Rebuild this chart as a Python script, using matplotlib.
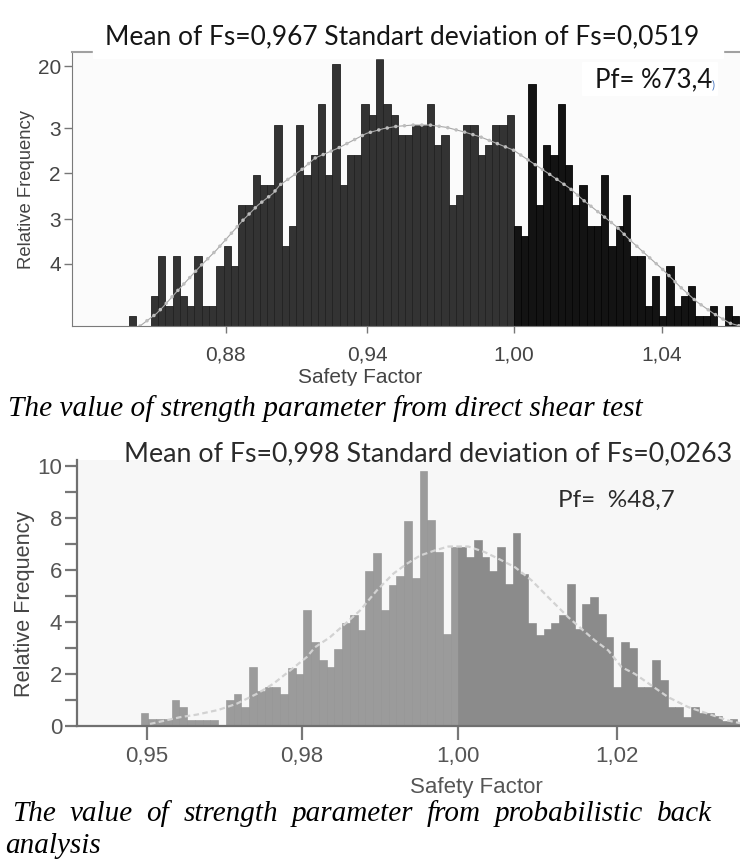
import matplotlib
matplotlib.use('Agg')
import matplotlib.pyplot as plt
import numpy as np
from matplotlib.patches import Rectangle

# figure size in pixels, all placement below is done in these pixels
W, H = 740, 868

def fx(px):
    return px / W

def fy(py):
    return 1 - py / H

# ---------------- data: direct shear test ----------------
top_title = 'Mean of Fs=0,967 Standart deviation of Fs=0,0519'
top_pf = 'Pf= %73,4'
top_bin_start = 0.841
top_bin_width = 0.003
# bars below Fs = 1.00
top_left = [0.77, 0, 0, 2.31, 5.38, 1.54, 5.38, 2.31, 1.54, 5.38, 1.54, 1.54, 4.62, 6.15,
            4.62, 9.31, 9.31, 11.62, 10.85, 10.85, 15.46, 6.15, 7.69, 15.46, 11.62, 13.15,
            17.05, 11.62, 20.13, 10.85, 13.15, 13.15, 17.05, 16.23, 20.51, 17.05, 16.23,
            14.69, 14.69, 15.46, 15.46, 17.05, 13.92, 14.69, 9.31, 10.08, 15.46, 15.46,
            13.15, 13.92, 15.46, 15.46, 16.23]
# bars above Fs = 1.00
top_right = [7.69, 6.92, 18.59, 9.31, 13.92, 13.15, 17.05, 12.38, 9.31, 10.85, 7.69, 7.69,
             11.62, 6.15, 7.69, 10.08, 5.38, 5.38, 1.54, 3.85, 0.77, 4.62, 1.54, 2.31, 3.08,
             0.77, 0.77, 1.54, 0, 1.54, 0.77]
top_curve_fs = [0.8455, 0.8524, 0.8551, 0.8613, 0.8702, 0.8771, 0.8881, 0.8943, 0.9005,
                0.9033, 0.9123, 0.9178, 0.9274, 0.9391, 0.9460, 0.9515, 0.9584, 0.9653,
                0.9722, 0.9790, 0.9860, 0.9929, 0.9997, 1.0080, 1.0142, 1.0231, 1.0286,
                1.0355, 1.0424, 1.0479, 1.0548, 1.0617, 1.0686, 1.0755, 1.0824, 1.0893, 1.0934]
top_curve_val = [0, 0.97, 1.49, 2.77, 4.56, 5.85, 8.15, 9.31, 10.21, 10.85, 12.03, 12.92,
                 13.69, 14.82, 15.18, 15.36, 15.46, 15.46, 15.28, 14.95, 14.56, 14.05, 13.54,
                 12.51, 11.74, 10.59, 9.69, 8.67, 7.64, 6.62, 5.46, 4.31, 3.03, 1.87, 0.97,
                 0.21, 0]
top_xticks = [0.881, 0.9393, 1.0, 1.0612]
top_xlabels = ['0,88', '0,94', '1,00', '1,04']
top_yticks = [4.77, 8.23, 11.77, 15.23, 20.0]
top_ylabels = ['4', '3', '2', '3', '20']
top_caption = 'The value of strength parameter from direct shear test'

# ---------------- data: probabilistic back analysis ----------------
bot_title = 'Mean of Fs=0,998 Standard deviation of Fs=0,0263'
bot_pf = 'Pf=  %48,7'
bot_bin_start = 0.959
bot_bin_width = 0.001
bot_left = [0.5, 0.25, 0.25, 0.25, 1.0, 0.73, 0.22, 0.22, 0.22, 0.22, 0.0,
            1.0, 1.22, 0.71, 2.25, 1.33, 1.48, 1.48, 1.22, 2.21, 2.0, 4.44, 3.22, 2.51,
            2.25, 2.96, 3.95, 4.25, 3.67, 5.96, 6.65, 4.47, 5.41, 5.79, 7.89, 5.70, 9.82,
            7.92, 6.69, 3.54, 6.91]
bot_right = [6.91, 6.5, 7.17, 6.5, 5.98, 6.91, 5.47, 7.43, 5.86, 3.95, 3.51, 3.73, 3.95,
             4.25, 5.47, 3.73, 4.70, 4.95, 4.31, 3.41, 1.48, 3.22, 3.0, 1.48, 1.48, 2.51,
             1.74, 0.71, 0.71, 0.32, 0.71, 0.48, 0.48, 0.35, 0.19, 0.26, 0.13]
bot_curve_fs = [0.96022, 0.96409, 0.96625, 0.96903, 0.97141, 0.97399, 0.97613, 0.97828,
                0.98044, 0.98151, 0.98345, 0.98516, 0.98732, 0.98947, 0.99161, 0.99334,
                0.99506, 0.99699, 0.99871, 1.00129, 1.00345, 1.00516, 1.00732, 1.00947,
                1.01161, 1.01419, 1.01613, 1.01764, 1.01935, 1.02108, 1.02280, 1.02495,
                1.02710, 1.02968, 1.03226, 1.03484, 1.03635]
bot_curve_val = [0.06, 0.32, 0.42, 0.60, 0.84, 1.22, 1.61, 2.12, 2.64, 3.02, 3.41, 3.86,
                 4.44, 5.21, 5.86, 6.24, 6.56, 6.76, 6.91, 6.91, 6.69, 6.44, 6.11, 5.60,
                 4.95, 4.18, 3.67, 3.28, 2.90, 2.25, 1.99, 1.54, 1.09, 0.71, 0.45, 0.19, 0.09]
bot_xticks = [0.95979, 0.97979, 1.0, 1.02044]
bot_xlabels = ['0,95', '0,98', '1,00', '1,02']
bot_caption = 'The value of strength parameter from probabilistic back'
bot_caption2 = 'analysis'

sans = 'Liberation Sans'
serif = 'Liberation Serif'
title_font = 'Lato'

fig = plt.figure(figsize=(W / 100, H / 100), dpi=100)

# ================= top chart =================
ax1 = fig.add_axes([fx(72), fy(326), fx(740) - fx(72), (326 - 52) / H])
ax1.set_facecolor('#fbfbfb')
ax1.set_xlim(0.8174, 1.0934)
ax1.set_ylim(0, 21.08)

h1 = top_left + top_right
e1 = top_bin_start + top_bin_width * np.arange(len(h1))
ax1.bar(e1[:len(top_left)], top_left, width=top_bin_width, align='edge',
        color='#333333', edgecolor='#222222', linewidth=0.6)
ax1.bar(e1[len(top_left):], top_right, width=top_bin_width, align='edge',
        color='#131313', edgecolor='#050505', linewidth=0.6)
ax1.plot(top_curve_fs, top_curve_val, color='#a8a8a8', lw=0.8)
ax1.plot(top_curve_fs, top_curve_val, color='#bdbdbd', lw=2.6,
         ls=(0, (0.01, 2.4)), dash_capstyle='round')

ax1.set_xticks(top_xticks)
ax1.set_xticklabels(top_xlabels, family=sans)
ax1.set_yticks(top_yticks)
ax1.set_yticklabels(top_ylabels, family=sans)
ax1.tick_params(axis='x', direction='out', length=5, width=1, color='#777777',
                pad=9, labelsize=15, labelcolor='#444444')
ax1.tick_params(axis='y', direction='out', length=6, width=1, color='#777777',
                pad=2, labelsize=15, labelcolor='#444444')
for s in ['left', 'bottom']:
    ax1.spines[s].set_color('#7a7a7a')
ax1.spines['top'].set_color('#a0a0a0')
ax1.spines['top'].set_linewidth(1.5)
ax1.spines['right'].set_visible(False)

ax1.set_xlabel('Safety Factor', family=sans, fontsize=15, color='#444444')
ax1.xaxis.set_label_coords((360 - 72) / 668, -(368 - 326) / 274)
ax1.set_ylabel('Relative Frequency', family=sans, fontsize=13.3, color='#444444')
ax1.yaxis.set_label_coords((35 - 72) / 668, (326 - 189.5) / 274)

# white boxes behind title and Pf, as in the screenshot
fig.add_artist(Rectangle((fx(93), fy(58)), fx(723) - fx(93), 58 / H,
                         transform=fig.transFigure, color='white', zorder=5))
fig.text(fx(402.5), fy(44.3), top_title, ha='center', va='baseline',
         family=title_font, fontsize=19, color='#151515', zorder=6)
fig.add_artist(Rectangle((fx(582), fy(95)), fx(717) - fx(582), 33 / H,
                         transform=fig.transFigure, color='white', zorder=5))
fig.text(fx(595), fy(87.3), top_pf, ha='left', va='baseline',
         family=title_font, fontsize=18.5, color='#151515', zorder=6)
fig.text(fx(712), fy(88), ')', ha='left', va='baseline',
         family=title_font, fontsize=8, color='#4a78c0', zorder=6)

# caption band (hides the foot of the x label like in the source)
fig.add_artist(Rectangle((0, fy(425)), 1, (425 - 386) / H,
                         transform=fig.transFigure, color='white', zorder=5))
fig.text(fx(8), fy(416), top_caption, ha='left', va='baseline', family=serif,
         style='italic', fontsize=21.2, color='black', zorder=6)

# ================= bottom chart =================
ax2 = fig.add_axes([fx(77), fy(725.5), fx(740) - fx(77), (725.5 - 460) / H])
ax2.set_facecolor('#f7f7f7')
ax2.set_xlim(0.9508, 1.03635)
ax2.set_ylim(0, 10.25)

h2 = bot_left + bot_right
e2 = bot_bin_start + bot_bin_width * np.arange(len(h2))
ax2.bar(e2[:len(bot_left)], bot_left, width=bot_bin_width, align='edge',
        color='#9b9b9b', edgecolor='#929292', linewidth=0.4)
ax2.bar(e2[len(bot_left):], bot_right, width=bot_bin_width, align='edge',
        color='#8b8b8b', edgecolor='#848484', linewidth=0.4)
ax2.plot(bot_curve_fs, bot_curve_val, color='#d2d2d2', lw=1.6, ls=(0, (2.5, 1.5)))

ax2.set_xticks(bot_xticks)
ax2.set_xticklabels(bot_xlabels, family=sans)
ax2.set_yticks([0, 2, 4, 6, 8, 10])
ax2.set_yticklabels(['0', '2', '4', '6', '8', '10'], family=sans)
ax2.set_yticks([1, 3, 5, 7, 9], minor=True)
ax2.tick_params(axis='x', direction='out', length=10, width=1.6, color='#777777',
                pad=5, labelsize=16, labelcolor='#555555')
ax2.tick_params(axis='y', which='both', direction='out', length=8.6, width=1.6,
                color='#777777', pad=2, labelsize=16, labelcolor='#555555')
for s in ['left', 'bottom']:
    ax2.spines[s].set_color('#707070')
    ax2.spines[s].set_linewidth(1.6)
ax2.spines['top'].set_visible(False)
ax2.spines['right'].set_visible(False)

ax2.set_xlabel('Safety Factor', family=sans, fontsize=16, color='#555555')
ax2.xaxis.set_label_coords((476.5 - 77) / 663, -(777 - 725.5) / 265.5)
ax2.set_ylabel('Relative Frequency', family=sans, fontsize=15.6, color='#444444')
ax2.yaxis.set_label_coords((35 - 77) / 663, (725.5 - 603.5) / 265.5)

fig.text(fx(428.3), fy(461.7), bot_title, ha='center', va='baseline',
         family=title_font, fontsize=19.3, color='#2b2b2b', zorder=6)
fig.text(fx(558), fy(506.7), bot_pf, ha='left', va='baseline',
         family=title_font, fontsize=17.5, color='#2b2b2b', zorder=6)

# justified caption line, like the word-processor original
words = bot_caption.split()
texts = [fig.text(0, fy(821), w, ha='left', va='baseline', family=serif,
                  style='italic', fontsize=21, color='black') for w in words]
renderer = fig.canvas.get_renderer()
widths = [t.get_window_extent(renderer).width for t in texts]
gap = (712 - 12 - sum(widths)) / (len(words) - 1)
x = 12
for t, w in zip(texts, widths):
    t.set_x(fx(x))
    x += w + gap
fig.text(fx(5), fy(853), bot_caption2, ha='left', va='baseline', family=serif,
         style='italic', fontsize=21, color='black')

fig.savefig('out.png', dpi=100)
